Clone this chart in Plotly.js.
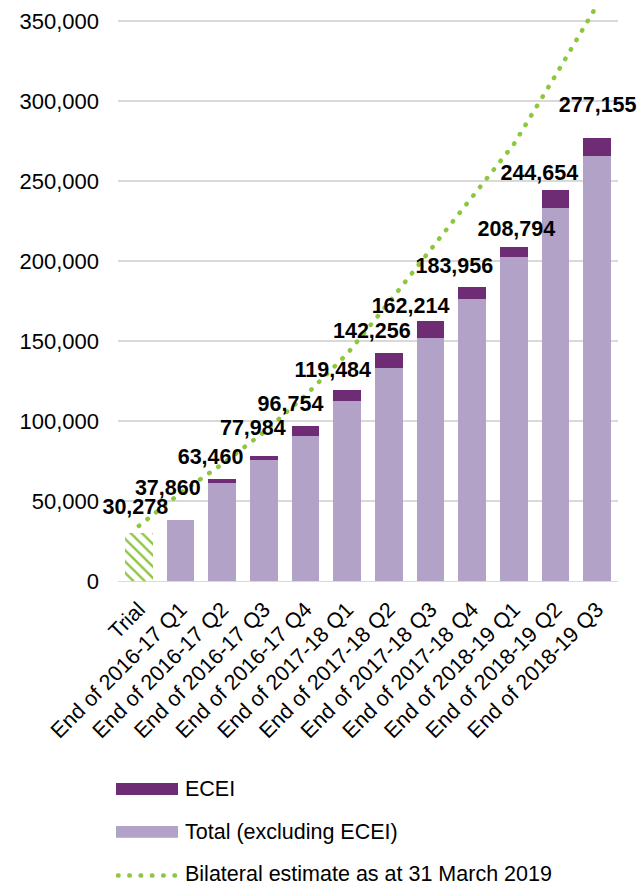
<!DOCTYPE html>
<html>
<head>
<meta charset="utf-8">
<script src="https://cdn.plot.ly/plotly-3.0.1.min.js"></script>
<style>html,body{margin:0;padding:0;background:#fff;}</style>
</head>
<body>
<div id="chart" style="width:639px;height:885px;"></div>
<script>
// ---- data ----
const categories = ["Trial","End of 2016-17 Q1","End of 2016-17 Q2","End of 2016-17 Q3","End of 2016-17 Q4","End of 2017-18 Q1","End of 2017-18 Q2","End of 2017-18 Q3","End of 2017-18 Q4","End of 2018-19 Q1","End of 2018-19 Q2","End of 2018-19 Q3"];
const totals = [30278, 37860, 63460, 77984, 96754, 119484, 142256, 162214, 183956, 208794, 244654, 277155];
const ecei = [null, 0, 2100, 2100, 6200, 6900, 9400, 10200, 7700, 6300, 11300, 11300];
const bilateral = [34400, 55000, 73000, 93000, 116000, 142000, 174000, 207000, 240000, 273000, 316000, 360000];
const yTickVals = [0, 50000, 100000, 150000, 200000, 250000, 300000, 350000];
const labelText = totals.map(v => v.toLocaleString('en-US'));
// manual label placement (pixels) as in the reference
const labelDx = [-3.5, -12.7, -11.6, -11, -15, -14.4, -17, -20, -17.8, 2.5, -16.2, 0.5];
const labelDy = [23.6, 31, 20.5, 26.5, 20.4, 18.5, 21, 14, 19.5, 16.5, 15.3, 31.2];

// ---- derived series ----
const trialVals = categories.map((c, i) => i === 0 ? totals[0] : null);
const exclVals = categories.map((c, i) => i === 0 ? null : totals[i] - ecei[i]);
const eceiVals = categories.map((c, i) => i === 0 ? null : ecei[i]);

// ---- styling ----
const FONT = "Liberation Sans, Arial, sans-serif";
const DARK = "#6E2C74", LIGHT = "#B3A2C7", GREEN = "#8DC63F";
const W = 639, H = 885, M = {l: 118, r: 21, t: 0, b: 304};
const PW = W - M.l - M.r, PH = H - M.t - M.b;
const px = x => (x - M.l) / PW;
const py = y => (H - M.b - y) / PH;
const n = categories.length;
const YMAX = 581 / 1.6 * 1000;
const xUnitPerPx = n / PW, yUnitPerPx = YMAX / PH;

const traces = [
  {type: 'bar', name: 'Trial', x: categories, y: trialVals, showlegend: false,
   marker: {color: '#ffffff', line: {width: 0},
            pattern: {shape: '\\', fgcolor: GREEN, bgcolor: '#ffffff', size: 8, solidity: 0.3}}},
  {type: 'bar', name: 'Total (excluding ECEI)', x: categories, y: exclVals,
   marker: {color: LIGHT, line: {width: 0}}},
  {type: 'bar', name: 'ECEI', x: categories, y: eceiVals,
   marker: {color: DARK, line: {width: 0}}},
  {type: 'scatter', mode: 'lines', name: 'Bilateral estimate as at 31 March 2019',
   x: categories, y: bilateral, line: {color: GREEN, width: 4.5, dash: '0.5px,10.5px'}},
  // value labels, on an overlaid numeric axis matching the category positions
  {type: 'scatter', mode: 'text', xaxis: 'x2', yaxis: 'y', showlegend: false, cliponaxis: false,
   x: categories.map((c, i) => i + labelDx[i] * xUnitPerPx),
   y: totals.map((v, i) => v + labelDy[i] * yUnitPerPx),
   text: labelText, textposition: 'middle center', hoverinfo: 'skip',
   textfont: {family: FONT, size: 21.5, color: '#000', weight: 'bold'}}
];

const annotations = [];
// custom legend (wide swatches like the reference)
const legendItems = [
  {label: 'ECEI', kind: 'rect', color: DARK, y: 789},
  {label: 'Total (excluding ECEI)', kind: 'rect', color: LIGHT, y: 831.8},
  {label: 'Bilateral estimate as at 31 March 2019', kind: 'dot', color: GREEN, y: 873.5}
];
const shapes = [];
legendItems.forEach(it => {
  if (it.kind === 'rect') {
    shapes.push({type: 'rect', xref: 'paper', yref: 'paper', x0: px(116), x1: px(178),
                 y0: py(it.y - 5.9), y1: py(it.y + 5.9), fillcolor: it.color, line: {width: 0}});
  } else {
    shapes.push({type: 'line', xref: 'paper', yref: 'paper', x0: px(118), x1: px(175),
                 y0: py(it.y + 2), y1: py(it.y + 2), line: {color: it.color, width: 4.5, dash: '0.5px,10.8px'}});
  }
  annotations.push({xref: 'paper', yref: 'paper', x: px(184), y: py(it.y), text: it.label,
                    showarrow: false, xanchor: 'left', yanchor: 'middle', borderpad: 0,
                    font: {family: FONT, size: 21.5, color: '#000'}});
});

const layout = {
  width: W, height: H, margin: M,
  paper_bgcolor: '#fff', plot_bgcolor: '#fff',
  barmode: 'stack', bargap: 0.33,
  showlegend: false,
  font: {family: FONT, color: '#000'},
  xaxis: {type: 'category', range: [-0.5, n - 0.5], autorange: false,
          tickangle: -45, tickfont: {family: FONT, size: 21.5, color: '#000'},
          showline: true, linecolor: '#d9d9d9', linewidth: 1.3, ticks: '', showgrid: false,
          ticklabelstandoff: 6, automargin: false},
  xaxis2: {type: 'linear', overlaying: 'x', range: [-0.5, n - 0.5], autorange: false,
           visible: false, showgrid: false, zeroline: false},
  yaxis: {range: [0, YMAX], autorange: false, tickvals: yTickVals, tickformat: ',d',
          tickfont: {family: FONT, size: 22, color: '#000'}, showgrid: true, gridcolor: '#d9d9d9',
          gridwidth: 1.3, zeroline: false, ticks: '', showline: false, ticklabelstandoff: 18,
          automargin: false},
  annotations: annotations,
  shapes: shapes
};

Plotly.newPlot('chart', traces, layout, {displayModeBar: false, staticPlot: true}).then(gd => {
  gd.querySelectorAll('.scatterlayer path.js-line, .shapelayer path').forEach(p => {
    p.style.strokeLinecap = 'round';
  });
});
</script>
</body>
</html>
